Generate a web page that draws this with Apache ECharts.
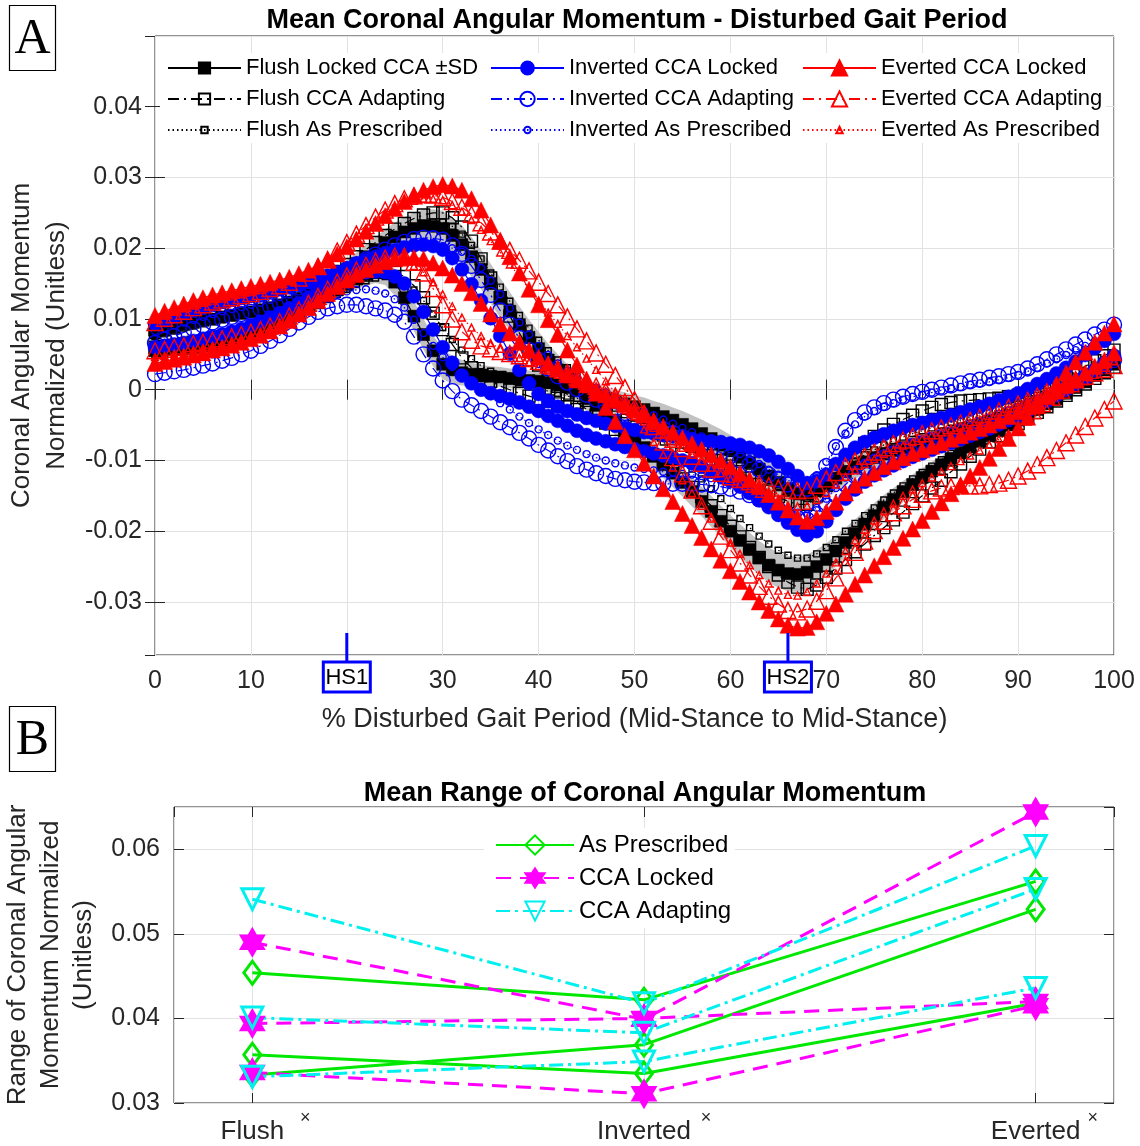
<!DOCTYPE html>
<html>
<head>
<meta charset="utf-8">
<title>Coronal Angular Momentum</title>
<script src="https://cdn.jsdelivr.net/npm/echarts@6/dist/echarts.min.js"></script>
<style>
html, body { margin: 0; padding: 0; background: #fff; }
#chart { width: 1140px; height: 1146px; }
</style>
</head>
<body>
<div id="chart"></div>
<script>
// ---------------- Panel A data ----------------
// Mean coronal angular momentum at every 1 % of the disturbed gait period.
// Values are in units of 1e-3 (normalized, unitless). Two curves per condition.
const gaitPercent = [0, 1, 2, 3, 4, 5, 6, 7, 8, 9, 10, 11, 12, 13, 14, 15, 16, 17, 18, 19,
  20, 21, 22, 23, 24, 25, 26, 27, 28, 29, 30, 31, 32, 33, 34, 35, 36, 37, 38, 39,
  40, 41, 42, 43, 44, 45, 46, 47, 48, 49, 50, 51, 52, 53, 54, 55, 56, 57, 58, 59,
  60, 61, 62, 63, 64, 65, 66, 67, 68, 69, 70, 71, 72, 73, 74, 75, 76, 77, 78, 79,
  80, 81, 82, 83, 84, 85, 86, 87, 88, 89, 90, 91, 92, 93, 94, 95, 96, 97, 98, 99, 100];

const flushLockedA = [
  8.0, 8.4, 8.8, 9.2, 9.5, 9.8, 10.0, 10.3, 10.5, 10.8,
  11.0, 11.3, 11.6, 12.0, 12.4, 12.9, 13.5, 14.2, 15.0, 15.9,
  16.8, 17.8, 18.8, 19.8, 20.8, 21.6, 22.3, 22.8, 23.2, 23.1,
  22.8, 21.8, 20.5, 18.8, 17.0, 15.0, 13.0, 11.1, 9.2, 7.4,
  5.8, 4.2, 2.8, 1.5, 0.2, -1.0, -2.2, -3.4, -4.6, -5.8,
  -7.0, -8.2, -9.4, -10.6, -11.8, -13.1, -14.4, -15.8, -17.2, -18.6,
  -20.0, -21.3, -22.6, -23.8, -24.8, -25.5, -26.0, -26.1, -25.8, -25.0,
  -24.0, -22.8, -21.6, -20.3, -19.0, -17.8, -16.6, -15.5, -14.4, -13.4,
  -12.4, -11.5, -10.6, -9.7, -8.9, -8.1, -7.3, -6.5, -5.8, -5.0,
  -4.3, -3.5, -2.8, -2.0, -1.3, -0.5, 0.3, 1.1, 2.0, 2.9, 3.8];
const flushLockedB = [
  5.5, 5.6, 5.7, 5.8, 6.0, 6.2, 6.4, 6.6, 6.9, 7.2,
  7.6, 8.1, 8.6, 9.2, 9.9, 10.7, 11.5, 12.3, 13.2, 14.1,
  14.9, 15.7, 16.3, 16.8, 16.6, 15.2, 13.0, 10.4, 7.8, 5.5,
  3.6, 2.8, 2.4, 2.2, 2.0, 1.9, 1.8, 1.6, 1.5, 1.3,
  1.2, 1.0, 0.7, 0.4, 0.0, -0.4, -0.8, -1.2, -1.6, -2.0,
  -2.4, -2.8, -3.3, -3.8, -4.3, -4.9, -5.5, -6.2, -6.9, -7.7,
  -8.5, -9.4, -10.3, -11.2, -12.2, -13.1, -14.0, -14.6, -14.8, -14.3,
  -13.4, -12.5, -11.6, -10.9, -10.2, -9.6, -9.1, -8.6, -8.2, -7.8,
  -7.4, -7.0, -6.6, -6.2, -5.8, -5.4, -5.0, -4.6, -4.1, -3.6,
  -3.1, -2.6, -2.0, -1.4, -0.8, -0.1, 0.6, 1.3, 2.1, 2.8, 3.6];
// Standard deviation of the Flush Locked CCA curves (same units)
const flushLockedSdA = [
  0.7, 0.7, 0.7, 0.7, 0.7, 0.7, 0.7, 0.7, 0.7, 0.7,
  0.8, 0.8, 0.9, 0.9, 1.0, 1.0, 1.1, 1.2, 1.3, 1.4,
  1.5, 1.6, 1.7, 1.8, 1.9, 2.0, 2.1, 2.2, 2.3, 2.4,
  2.5, 2.6, 2.7, 2.8, 2.8, 2.8, 2.8, 2.7, 2.6, 2.5,
  2.4, 2.3, 2.2, 2.1, 2.0, 1.9, 1.8, 1.8, 1.8, 1.8,
  1.8, 1.8, 1.9, 1.9, 2.0, 2.0, 2.1, 2.1, 2.2, 2.2,
  2.3, 2.3, 2.4, 2.4, 2.5, 2.5, 2.5, 2.5, 2.5, 2.4,
  2.3, 2.2, 2.1, 2.0, 1.9, 1.8, 1.7, 1.6, 1.5, 1.4,
  1.3, 1.3, 1.2, 1.2, 1.1, 1.1, 1.0, 1.0, 1.0, 1.0,
  0.9, 0.9, 0.9, 0.9, 0.9, 0.9, 0.9, 0.9, 0.9, 0.9, 0.9];
const flushLockedSdB = [
  0.6, 0.6, 0.6, 0.6, 0.6, 0.6, 0.6, 0.6, 0.6, 0.6,
  0.7, 0.7, 0.8, 0.8, 0.9, 0.9, 1.0, 1.1, 1.2, 1.3,
  1.4, 1.5, 1.6, 1.7, 1.8, 1.9, 2.0, 2.1, 2.2, 2.2,
  2.1, 2.0, 1.8, 1.6, 1.5, 1.4, 1.4, 1.4, 1.4, 1.4,
  1.4, 1.4, 1.4, 1.4, 1.5, 1.5, 1.5, 1.5, 1.6, 1.6,
  1.6, 1.7, 1.7, 1.8, 1.8, 1.9, 1.9, 2.0, 2.0, 2.1,
  2.1, 2.1, 2.2, 2.2, 2.2, 2.2, 2.2, 2.2, 2.2, 2.1,
  2.0, 1.9, 1.8, 1.7, 1.6, 1.5, 1.4, 1.3, 1.2, 1.2,
  1.1, 1.1, 1.0, 1.0, 1.0, 1.0, 0.9, 0.9, 0.9, 0.9,
  0.8, 0.8, 0.8, 0.8, 0.8, 0.8, 0.8, 0.8, 0.8, 0.8, 0.8];
const flushAdaptA = [
  8.5, 8.9, 9.3, 9.7, 10.0, 10.3, 10.6, 10.9, 11.1, 11.4,
  11.6, 11.9, 12.2, 12.6, 13.0, 13.6, 14.2, 15.0, 15.8, 16.7,
  17.7, 18.8, 19.8, 20.8, 21.8, 22.7, 23.5, 24.2, 24.7, 25.0,
  25.0, 24.3, 23.0, 21.0, 18.5, 15.8, 13.0, 10.4, 8.0, 5.7,
  3.5, 1.9, 0.5, -0.7, -1.8, -2.8, -3.8, -4.7, -5.6, -6.5,
  -7.4, -8.3, -9.3, -10.3, -11.4, -12.6, -13.8, -15.1, -16.4, -17.8,
  -19.3, -20.8, -22.3, -23.7, -25.0, -26.2, -27.2, -27.9, -28.2, -27.6,
  -26.5, -25.2, -24.0, -22.9, -21.8, -20.6, -19.5, -18.4, -17.3, -16.1,
  -15.0, -13.9, -12.8, -11.6, -10.5, -9.4, -8.4, -7.4, -6.5, -5.6,
  -4.8, -4.0, -3.2, -2.4, -1.6, -0.8, 0.0, 0.8, 1.6, 2.4, 3.2];
const flushAdaptB = [
  6.0, 6.1, 6.3, 6.5, 6.7, 6.9, 7.2, 7.5, 7.8, 8.1,
  8.5, 8.9, 9.4, 10.0, 10.6, 11.3, 12.0, 12.7, 13.5, 14.3,
  15.0, 15.7, 16.2, 16.6, 16.8, 16.6, 16.0, 14.7, 13.0, 10.8,
  8.5, 6.4, 4.5, 3.1, 2.0, 1.2, 0.5, 0.0, -0.5, -0.9,
  -1.3, -1.6, -2.0, -2.4, -2.8, -3.2, -3.6, -4.0, -4.4, -4.8,
  -5.2, -5.6, -6.0, -6.4, -6.9, -7.4, -8.0, -8.6, -9.3, -10.0,
  -10.8, -11.6, -12.5, -13.4, -14.3, -15.1, -15.8, -16.2, -16.2, -15.0,
  -13.5, -11.8, -10.2, -8.8, -7.6, -6.6, -5.7, -4.9, -4.2, -3.6,
  -3.0, -2.5, -2.1, -1.8, -1.6, -1.5, -1.4, -1.3, -1.2, -1.0,
  -0.8, -0.4, 0.0, 0.6, 1.2, 1.9, 2.6, 3.3, 4.1, 4.8, 5.6];
const flushPrescA = [
  7.5, 7.9, 8.3, 8.7, 9.0, 9.3, 9.6, 9.9, 10.2, 10.5,
  10.8, 11.1, 11.5, 11.9, 12.4, 13.0, 13.6, 14.3, 15.1, 16.0,
  16.9, 17.8, 18.8, 19.8, 20.7, 21.5, 22.3, 23.0, 23.5, 23.7,
  23.7, 23.1, 22.0, 20.4, 18.5, 16.5, 14.5, 12.5, 10.5, 8.7,
  7.0, 5.5, 4.2, 3.1, 2.0, 1.0, 0.0, -1.0, -2.0, -3.0,
  -4.0, -5.1, -6.2, -7.4, -8.6, -9.9, -11.2, -12.6, -14.0, -15.4,
  -16.8, -18.2, -19.5, -20.7, -21.8, -22.7, -23.4, -23.8, -23.8, -23.2,
  -22.3, -21.2, -20.0, -18.9, -17.8, -16.7, -15.6, -14.6, -13.6, -12.6,
  -11.7, -10.8, -9.9, -9.0, -8.2, -7.4, -6.6, -5.8, -5.1, -4.3,
  -3.6, -2.8, -2.1, -1.3, -0.6, 0.2, 0.9, 1.7, 2.4, 3.2, 3.9];
const flushPrescB = [
  5.0, 5.1, 5.3, 5.5, 5.7, 5.9, 6.2, 6.5, 6.8, 7.2,
  7.6, 8.1, 8.6, 9.2, 9.9, 10.6, 11.3, 12.0, 12.8, 13.5,
  14.2, 14.9, 15.4, 15.8, 16.0, 15.8, 15.3, 14.1, 12.6, 10.7,
  8.8, 7.1, 5.6, 4.4, 3.4, 2.6, 2.0, 1.5, 1.0, 0.6,
  0.2, -0.2, -0.5, -0.9, -1.2, -1.6, -1.9, -2.3, -2.6, -3.0,
  -3.4, -3.8, -4.2, -4.6, -5.1, -5.6, -6.2, -6.8, -7.5, -8.2,
  -9.0, -9.9, -10.8, -11.8, -12.8, -13.7, -14.6, -15.1, -15.4, -14.6,
  -13.6, -12.4, -11.2, -10.2, -9.2, -8.5, -7.8, -7.2, -6.7, -6.2,
  -5.8, -5.4, -5.0, -4.6, -4.3, -3.9, -3.6, -3.2, -2.8, -2.4,
  -1.9, -1.4, -0.8, -0.2, 0.4, 1.1, 1.8, 2.5, 3.3, 4.0, 4.8];

const invLockedA = [
  9.3, 9.8, 10.3, 10.8, 11.2, 11.6, 12.0, 12.4, 12.7, 13.0,
  13.3, 13.6, 13.9, 14.2, 14.5, 14.8, 15.2, 15.6, 16.1, 16.6,
  17.2, 17.8, 18.3, 18.8, 19.3, 19.7, 20.1, 20.4, 20.5, 20.3,
  19.8, 18.6, 17.0, 14.9, 12.6, 10.1, 7.6, 5.1, 2.8, 0.9,
  -0.6, -1.6, -2.4, -3.0, -3.5, -4.0, -4.4, -4.8, -5.1, -5.4,
  -5.7, -6.0, -6.2, -6.4, -6.6, -6.8, -7.0, -7.2, -7.3, -7.4,
  -7.6, -7.8, -8.2, -8.7, -9.3, -10.2, -11.2, -12.2, -13.2, -12.9,
  -12.0, -10.5, -9.2, -8.2, -7.4, -6.8, -6.3, -5.8, -5.4, -5.0,
  -4.7, -4.3, -4.0, -3.6, -3.2, -2.8, -2.4, -2.0, -1.5, -1.0,
  -0.5, 0.1, 0.8, 1.5, 2.3, 3.1, 4.0, 4.9, 5.9, 6.9, 7.9];
const invLockedB = [
  6.0, 6.2, 6.4, 6.6, 6.9, 7.2, 7.5, 7.8, 8.2, 8.6,
  9.1, 9.6, 10.2, 10.8, 11.5, 12.2, 13.0, 13.8, 14.5, 15.2,
  15.8, 16.3, 16.6, 16.7, 16.6, 16.0, 15.0, 13.2, 11.0, 8.5,
  6.0, 3.8, 2.0, 0.9, 0.0, -0.5, -0.9, -1.3, -1.8, -2.4,
  -3.0, -3.7, -4.4, -5.1, -5.8, -6.4, -6.9, -7.3, -7.7, -8.1,
  -8.4, -8.7, -9.0, -9.3, -9.6, -10.0, -10.4, -10.9, -11.5, -12.2,
  -12.9, -13.7, -14.6, -15.6, -16.6, -17.7, -18.8, -19.8, -20.6, -20.0,
  -18.6, -17.0, -15.4, -14.1, -13.0, -12.1, -11.4, -10.7, -10.1, -9.5,
  -9.0, -8.5, -8.0, -7.5, -7.0, -6.5, -6.0, -5.5, -4.9, -4.3,
  -3.7, -3.0, -2.3, -1.6, -0.8, 0.0, 0.9, 1.8, 2.8, 3.8, 4.8];
const invAdaptA = [
  6.6, 7.1, 7.6, 8.1, 8.6, 9.1, 9.5, 9.9, 10.3, 10.7,
  11.0, 11.4, 11.8, 12.3, 12.8, 13.4, 14.0, 14.7, 15.4, 16.1,
  16.9, 17.7, 18.4, 19.1, 19.8, 20.4, 20.9, 21.3, 21.5, 21.4,
  21.2, 20.4, 19.2, 17.5, 15.5, 13.4, 11.2, 9.2, 7.3, 5.6,
  4.2, 3.0, 1.9, 1.0, 0.1, -0.7, -1.4, -2.1, -2.7, -3.3,
  -3.9, -4.5, -5.0, -5.6, -6.1, -6.7, -7.2, -7.8, -8.3, -8.9,
  -9.4, -10.0, -10.6, -11.3, -12.0, -12.7, -13.4, -13.9, -14.0, -12.8,
  -10.8, -8.1, -5.8, -4.3, -3.2, -2.5, -1.9, -1.4, -1.0, -0.6,
  -0.3, 0.0, 0.3, 0.6, 0.9, 1.2, 1.4, 1.7, 1.9, 2.2,
  2.5, 3.0, 3.6, 4.3, 5.0, 5.7, 6.4, 7.1, 7.8, 8.5, 9.2];
const invAdaptB = [
  2.2, 2.4, 2.6, 2.8, 3.1, 3.4, 3.7, 4.1, 4.5, 5.0,
  5.5, 6.2, 6.9, 7.7, 8.6, 9.5, 10.3, 11.0, 11.5, 11.8,
  12.0, 12.0, 11.8, 11.5, 11.2, 10.6, 9.6, 7.5, 5.0, 3.0,
  1.3, -0.2, -1.4, -2.2, -3.0, -3.8, -4.6, -5.3, -6.1, -6.9,
  -7.8, -8.6, -9.4, -10.1, -10.8, -11.3, -11.8, -12.2, -12.6, -12.8,
  -13.0, -13.1, -13.2, -13.3, -13.3, -13.3, -13.3, -13.4, -13.5, -13.7,
  -14.0, -14.4, -14.9, -15.5, -16.2, -16.9, -17.6, -18.1, -18.4, -17.6,
  -16.4, -14.9, -13.4, -12.2, -11.1, -10.3, -9.6, -9.0, -8.5, -8.0,
  -7.6, -7.1, -6.7, -6.3, -5.9, -5.4, -5.0, -4.5, -4.0, -3.5,
  -3.0, -2.4, -1.8, -1.2, -0.5, 0.2, 1.0, 1.8, 2.6, 3.4, 4.2];
const invPrescA = [
  8.3, 8.7, 9.1, 9.5, 9.9, 10.3, 10.7, 11.1, 11.4, 11.7,
  12.0, 12.3, 12.7, 13.1, 13.5, 13.9, 14.4, 14.9, 15.5, 16.1,
  16.7, 17.4, 18.0, 18.6, 19.1, 19.5, 19.9, 20.1, 20.3, 20.3,
  20.3, 20.0, 19.5, 18.5, 17.2, 15.4, 13.5, 11.5, 9.5, 7.8,
  6.2, 4.9, 3.7, 2.7, 1.8, 1.0, 0.3, -0.4, -1.1, -1.8,
  -2.4, -3.0, -3.6, -4.2, -4.8, -5.4, -6.0, -6.6, -7.2, -7.8,
  -8.4, -9.1, -9.8, -10.5, -11.3, -12.0, -12.8, -13.3, -13.4, -12.1,
  -10.2, -8.0, -6.2, -4.9, -3.8, -3.0, -2.4, -1.9, -1.4, -1.0,
  -0.7, -0.4, -0.1, 0.2, 0.4, 0.7, 0.9, 1.1, 1.4, 1.7,
  2.1, 2.6, 3.1, 3.7, 4.3, 4.9, 5.6, 6.2, 6.9, 7.5, 8.2];
const invPrescB = [
  3.5, 3.7, 3.9, 4.1, 4.4, 4.7, 5.0, 5.4, 5.8, 6.3,
  6.8, 7.4, 8.1, 8.9, 9.7, 10.6, 11.4, 12.2, 12.9, 13.5,
  13.9, 14.1, 14.2, 14.0, 13.6, 12.8, 11.6, 9.9, 8.0, 6.2,
  4.6, 3.2, 2.0, 1.0, 0.0, -0.9, -1.9, -2.8, -3.8, -4.7,
  -5.6, -6.4, -7.2, -7.9, -8.5, -9.1, -9.6, -10.0, -10.4, -10.7,
  -11.0, -11.2, -11.4, -11.6, -11.7, -11.9, -12.0, -12.2, -12.5, -12.8,
  -13.2, -13.7, -14.3, -15.0, -15.7, -16.4, -17.0, -17.4, -17.6, -16.7,
  -15.4, -13.9, -12.4, -11.3, -10.3, -9.6, -9.0, -8.5, -8.0, -7.6,
  -7.2, -6.8, -6.4, -6.0, -5.6, -5.2, -4.8, -4.4, -3.9, -3.4,
  -2.9, -2.3, -1.7, -1.1, -0.4, 0.3, 1.0, 1.7, 2.5, 3.2, 4.0];

const evLockedA = [
  10.5, 11.1, 11.6, 12.1, 12.6, 13.0, 13.4, 13.7, 14.0, 14.3,
  14.6, 14.9, 15.2, 15.5, 15.9, 16.4, 16.9, 17.5, 18.3, 19.2,
  20.2, 21.3, 22.4, 23.5, 24.6, 25.6, 26.6, 27.5, 28.2, 28.7,
  29.0, 28.8, 28.2, 27.0, 25.4, 23.3, 21.0, 18.8, 16.5, 14.2,
  12.0, 9.9, 7.8, 5.6, 3.5, 1.5, -0.5, -2.5, -4.5, -6.5,
  -8.5, -10.4, -12.2, -14.0, -15.8, -17.5, -19.2, -20.9, -22.5, -24.1,
  -25.6, -27.1, -28.6, -30.0, -31.2, -32.4, -33.3, -33.7, -33.6, -32.8,
  -31.6, -30.3, -28.9, -27.5, -26.2, -24.9, -23.6, -22.3, -21.0, -19.7,
  -18.5, -17.2, -16.0, -14.7, -13.5, -12.2, -11.0, -9.7, -8.3, -6.9,
  -5.4, -3.9, -2.3, -0.8, 0.8, 2.4, 3.9, 5.3, 6.7, 8.0, 9.3];
const evLockedB = [
  3.7, 4.0, 4.3, 4.6, 4.9, 5.2, 5.6, 5.9, 6.3, 6.7,
  7.2, 7.7, 8.3, 9.0, 9.8, 10.7, 11.6, 12.6, 13.6, 14.6,
  15.5, 16.3, 17.0, 17.6, 18.1, 18.5, 18.7, 18.7, 18.5, 17.9,
  17.2, 16.2, 15.0, 13.7, 12.2, 10.7, 9.3, 8.0, 6.7, 5.6,
  4.6, 3.7, 2.9, 2.1, 1.4, 0.7, 0.0, -0.7, -1.4, -2.1,
  -2.9, -3.6, -4.4, -5.2, -6.0, -6.8, -7.6, -8.4, -9.2, -10.0,
  -10.9, -11.8, -12.7, -13.7, -14.8, -15.9, -17.0, -18.0, -18.6, -18.1,
  -17.2, -15.9, -14.6, -13.5, -12.5, -11.7, -10.9, -10.2, -9.6, -9.0,
  -8.5, -8.0, -7.5, -7.0, -6.5, -6.0, -5.5, -5.0, -4.4, -3.8,
  -3.1, -2.4, -1.7, -1.0, -0.2, 0.6, 1.5, 2.4, 3.3, 4.2, 5.2];
const evAdaptA = [
  9.5, 10.1, 10.6, 11.1, 11.6, 12.0, 12.4, 12.7, 13.0, 13.3,
  13.6, 13.9, 14.3, 14.7, 15.2, 15.8, 16.5, 17.4, 18.4, 19.6,
  20.8, 22.0, 23.2, 24.4, 25.4, 26.3, 27.0, 27.4, 27.6, 27.5,
  27.2, 26.6, 25.8, 24.8, 23.6, 22.3, 21.0, 19.7, 18.3, 16.8,
  15.2, 13.6, 12.0, 10.3, 8.6, 6.9, 5.2, 3.6, 2.0, 0.3,
  -1.4, -3.3, -5.2, -7.4, -9.6, -11.9, -14.2, -16.4, -18.6, -20.7,
  -22.6, -24.5, -26.2, -27.8, -29.2, -30.3, -31.2, -31.4, -31.0, -29.9,
  -28.4, -26.6, -24.8, -23.0, -21.4, -19.9, -18.6, -17.4, -16.4, -15.5,
  -14.8, -14.3, -13.9, -13.7, -13.6, -13.6, -13.6, -13.4, -13.2, -12.8,
  -12.2, -11.5, -10.6, -9.6, -8.6, -7.5, -6.4, -5.2, -4.0, -2.8, -1.6];
const evAdaptB = [
  5.5, 5.7, 6.0, 6.2, 6.5, 6.7, 7.0, 7.2, 7.5, 7.8,
  8.1, 8.5, 9.0, 9.6, 10.4, 11.3, 12.2, 13.2, 14.2, 15.2,
  16.1, 16.9, 17.6, 18.2, 18.6, 18.9, 18.9, 18.0, 16.5, 14.3,
  12.0, 10.0, 8.2, 7.0, 6.2, 5.8, 5.4, 5.1, 4.8, 4.4,
  4.0, 3.5, 3.0, 2.4, 1.8, 1.2, 0.5, -0.2, -0.9, -1.7,
  -2.5, -3.4, -4.5, -5.7, -7.0, -8.3, -9.4, -10.4, -11.2, -11.8,
  -12.3, -12.7, -13.0, -13.3, -13.6, -13.9, -14.2, -14.3, -14.2, -13.5,
  -12.6, -11.7, -10.8, -10.1, -9.4, -8.8, -8.2, -7.6, -7.1, -6.6,
  -6.2, -5.8, -5.4, -5.1, -4.7, -4.3, -3.9, -3.5, -3.0, -2.5,
  -2.0, -1.5, -0.9, -0.3, 0.3, 0.9, 1.4, 1.9, 2.4, 2.9, 3.4];
const evPrescA = [
  10.0, 10.5, 11.0, 11.5, 11.9, 12.3, 12.6, 12.9, 13.2, 13.5,
  13.8, 14.1, 14.5, 14.9, 15.4, 16.0, 16.7, 17.5, 18.4, 19.4,
  20.5, 21.6, 22.7, 23.8, 24.7, 25.5, 26.2, 26.7, 27.0, 27.0,
  26.8, 26.1, 25.2, 24.0, 22.6, 21.0, 19.4, 17.7, 16.0, 14.3,
  12.6, 10.9, 9.3, 7.6, 6.0, 4.4, 2.8, 1.2, -0.4, -2.1,
  -3.8, -5.6, -7.4, -9.2, -11.0, -12.8, -14.6, -16.4, -18.2, -19.9,
  -21.6, -23.2, -24.8, -26.2, -27.4, -28.4, -29.0, -29.1, -28.6, -27.4,
  -26.0, -24.4, -22.8, -21.3, -19.8, -18.5, -17.2, -16.1, -15.0, -14.1,
  -13.2, -12.4, -11.6, -10.8, -10.1, -9.3, -8.6, -7.8, -7.0, -6.2,
  -5.4, -4.5, -3.6, -2.6, -1.7, -0.7, 0.2, 1.2, 2.1, 3.1, 4.0];
const evPrescB = [
  4.6, 4.8, 5.1, 5.3, 5.6, 5.9, 6.2, 6.5, 6.9, 7.3,
  7.7, 8.2, 8.8, 9.5, 10.2, 11.1, 12.0, 13.0, 14.0, 15.0,
  15.8, 16.6, 17.2, 17.7, 18.0, 18.1, 18.0, 17.5, 16.6, 15.2,
  13.5, 11.8, 10.2, 8.8, 7.6, 6.6, 5.8, 5.1, 4.5, 3.9,
  3.3, 2.7, 2.1, 1.5, 0.8, 0.1, -0.6, -1.3, -2.1, -2.9,
  -3.7, -4.5, -5.4, -6.3, -7.3, -8.2, -9.2, -10.1, -11.0, -11.8,
  -12.6, -13.3, -14.0, -14.7, -15.3, -15.8, -16.3, -16.5, -16.4, -15.6,
  -14.6, -13.4, -12.3, -11.4, -10.5, -9.8, -9.1, -8.5, -7.9, -7.4,
  -6.9, -6.4, -6.0, -5.5, -5.1, -4.6, -4.2, -3.7, -3.2, -2.7,
  -2.1, -1.5, -0.9, -0.3, 0.4, 1.0, 1.7, 2.3, 2.9, 3.5, 4.1];

// Heel-strike events on the gait-period axis
const heelStrikes = [{ label: 'HS1', x: 20 }, { label: 'HS2', x: 66 }];

// ---------------- Panel B data ----------------
// Mean range of coronal angular momentum per shoe condition (three lines per group)
const shoeConditions = ['Flush', 'Inverted', 'Everted'];
const asPrescribedRange = [[0.0454, 0.0422, 0.0562], [0.0333, 0.0369, 0.0529], [0.0357, 0.0335, 0.0418]];
const ccaLockedRange = [[0.0490, 0.0399, 0.0644], [0.0394, 0.0400, 0.0420], [0.0336, 0.0311, 0.0415]];
const ccaAdaptingRange = [[0.0541, 0.0418, 0.0604], [0.0401, 0.0383, 0.0553], [0.0331, 0.0349, 0.0436]];

// ---------------- Axis ranges ----------------
const yRangeA = { min: -0.0375, max: 0.05 };
const yRangeB = { min: 0.03, max: 0.065 };
const xRangeB = { min: 0.8, max: 3.2 };
const MILLI = 1e-3;

// ---------------- Styling ----------------
const FONT = 'Arial, "Liberation Sans", Helvetica, sans-serif';
const INK = '#262626';
const GRID_LINE = '#e2e2e2';
const DASHDOT = [11, 5, 2, 5];
const DOTTED = [1.5, 3];
const HEXAGRAM = 'path://M50,0 L64.43,25 L93.3,25 L78.87,50 L93.3,75 L64.43,75 L50,100 L35.57,75 L6.7,75 L21.13,50 L6.7,25 L35.57,25 Z';

const groupsA = [
  { name: 'Flush Locked CCA ±SD', curves: [flushLockedA, flushLockedB], color: '#000000', symbol: 'rect', size: 12, fill: true, dash: 'solid' },
  { name: 'Flush CCA Adapting', curves: [flushAdaptA, flushAdaptB], color: '#000000', symbol: 'rect', size: 12, fill: false, dash: DASHDOT },
  { name: 'Flush As Prescribed', curves: [flushPrescA, flushPrescB], color: '#000000', symbol: 'rect', size: 6, fill: false, dash: DOTTED },
  { name: 'Inverted CCA Locked', curves: [invLockedA, invLockedB], color: '#0000ff', symbol: 'circle', size: 14, fill: true, dash: 'solid' },
  { name: 'Inverted CCA Adapting', curves: [invAdaptA, invAdaptB], color: '#0000ff', symbol: 'circle', size: 15, fill: false, dash: DASHDOT },
  { name: 'Inverted As Prescribed', curves: [invPrescA, invPrescB], color: '#0000ff', symbol: 'circle', size: 7, fill: false, dash: DOTTED },
  { name: 'Everted CCA Locked', curves: [evLockedA, evLockedB], color: '#ff0000', symbol: 'triangle', size: 16, fill: true, dash: 'solid' },
  { name: 'Everted CCA Adapting', curves: [evAdaptA, evAdaptB], color: '#ff0000', symbol: 'triangle', size: 16, fill: false, dash: DASHDOT },
  { name: 'Everted As Prescribed', curves: [evPrescA, evPrescB], color: '#ff0000', symbol: 'triangle', size: 7, fill: false, dash: DOTTED }
];

const groupsB = [
  { name: 'As Prescribed', lines: asPrescribedRange, color: '#00e800', symbol: 'diamond', size: [17, 23], rotate: 0, dash: 'solid', fill: 'rgba(0,0,0,0)' },
  { name: 'CCA Locked', lines: ccaLockedRange, color: '#ff00ff', symbol: HEXAGRAM, size: 25, rotate: 0, dash: [15, 9], fill: '#ff00ff' },
  { name: 'CCA Adapting', lines: ccaAdaptingRange, color: '#00f0f0', symbol: 'triangle', size: 21, rotate: 180, dash: [14, 5, 3, 5], fill: 'rgba(0,0,0,0)' }
];

const chart = echarts.init(document.getElementById('chart'), null, { renderer: 'canvas' });

const toGaitPoints = vals => vals.map((v, i) => [gaitPercent[i], v * MILLI]);

const series = [];

// Shaded ±SD band around both Flush Locked CCA curves, drawn as one polygon each
[[flushLockedA, flushLockedSdA], [flushLockedB, flushLockedSdB]].forEach(([mean, sd]) => {
  const rows = mean.map((m, i) => [gaitPercent[i], (m - sd[i]) * MILLI, (m + sd[i]) * MILLI]);
  series.push({
    type: 'custom', xAxisIndex: 0, yAxisIndex: 0, silent: true, z: 1, clip: true,
    data: rows,
    encode: { x: 0, y: [1, 2] },
    renderItem: (params, api) => {
      if (params.dataIndex !== 0) return null;
      const upper = rows.map(r => api.coord([r[0], r[2]]));
      const lower = rows.map(r => api.coord([r[0], r[1]])).reverse();
      return { type: 'polygon', shape: { points: upper.concat(lower) }, style: { fill: '#c2c2c2' } };
    }
  });
});

groupsA.forEach(g => {
  g.curves.forEach(vals => {
    series.push({
      type: 'line', name: g.name, xAxisIndex: 0, yAxisIndex: 0,
      data: toGaitPoints(vals),
      symbol: g.symbol, symbolSize: g.size,
      lineStyle: { color: g.color, width: 1.2, type: g.dash },
      itemStyle: g.fill
        ? { color: g.color, borderColor: g.color, borderWidth: 0.5 }
        : { color: 'rgba(0,0,0,0)', borderColor: g.color, borderWidth: 1.4 },
      emphasis: { disabled: true }, silent: true, z: 2
    });
  });
});

groupsB.forEach(g => {
  g.lines.forEach(vals => {
    series.push({
      type: 'line', name: g.name, xAxisIndex: 2, yAxisIndex: 2,
      data: vals.map((v, i) => [i + 1, v]),
      symbol: g.symbol, symbolSize: g.size, symbolRotate: g.rotate, symbolKeepAspect: true,
      lineStyle: { color: g.color, width: 3, type: g.dash },
      itemStyle: { color: g.fill, borderColor: g.color, borderWidth: 3 },
      emphasis: { disabled: true }, silent: true, z: 2
    });
  });
});

// Legend of panel A: one entry per slot, three columns x three rows
const legendColsA = [167, 490, 802];
const legendRowsA = [68, 99, 130];
const legends = groupsA.map((g, idx) => ({
  data: [g.name],
  left: legendColsA[Math.floor(idx / 3)],
  top: legendRowsA[idx % 3] - 12,
  orient: 'vertical', padding: 0, selectedMode: false,
  itemWidth: 73, itemHeight: g.size < 10 ? 8 : Math.round(g.size / 0.85),
  textStyle: { fontSize: 22, lineHeight: 24, color: '#000', fontFamily: FONT }
}));
legends.push({
  data: groupsB.map(g => g.name),
  left: 495, top: 833, orient: 'vertical', padding: 0, selectedMode: false,
  itemWidth: 78, itemHeight: 24, itemGap: 9,
  textStyle: { fontSize: 24, lineHeight: 24, color: '#000', fontFamily: FONT }
});

const tickLabelA = v => {
  const r = Math.round(v * 100);
  if (Math.abs(v * 100 - r) > 1e-6) return '';
  return r === 0 ? '0' : (r / 100).toFixed(2);
};
const tickLabelB = v => {
  const r = Math.round(v * 100);
  if (Math.abs(v * 100 - r) > 1e-6) return '';
  return (r / 100).toFixed(2);
};
const categoryLabel = v => {
  const r = Math.round(v);
  if (Math.abs(v - r) > 1e-6) return '';
  return shoeConditions[r - 1] || '';
};

const tick = { show: true, inside: true, length: 10, lineStyle: { color: INK, width: 1 } };
const label = { fontSize: 25, color: INK, fontFamily: FONT };
const split = { show: true, lineStyle: { color: GRID_LINE, width: 1 } };
const nameStyle = { fontSize: 27, color: INK, fontFamily: FONT };

const option = {
  animation: false,
  backgroundColor: '#ffffff',
  title: [
    { text: 'Mean Coronal Angular Momentum - Disturbed Gait Period', left: 632, top: 2, textAlign: 'center',
      textStyle: { fontSize: 27, fontWeight: 'bold', color: '#000', fontFamily: FONT } },
    { text: 'Mean Range of Coronal Angular Momentum', left: 640, top: 775, textAlign: 'center',
      textStyle: { fontSize: 27, fontWeight: 'bold', color: '#000', fontFamily: FONT } }
  ],
  legend: legends,
  grid: [
    { left: 155, top: 36, width: 959, height: 619, show: true, borderColor: INK, borderWidth: 1, backgroundColor: 'transparent', outerBoundsMode: 'none' },
    { left: 174, top: 807, width: 940, height: 296, show: true, borderColor: INK, borderWidth: 1, backgroundColor: 'transparent', outerBoundsMode: 'none' }
  ],
  xAxis: [
    { gridIndex: 0, type: 'value', min: 0, max: 100, interval: 10, position: 'bottom',
      axisLine: { show: false }, axisTick: tick, splitLine: split,
      axisLabel: Object.assign({ margin: 14 }, label),
      name: '% Disturbed Gait Period (Mid-Stance to Mid-Stance)', nameLocation: 'middle', nameGap: 51, nameTextStyle: nameStyle },
    { gridIndex: 0, type: 'value', min: 0, max: 100, interval: 10, position: 'top',
      axisLine: { show: false }, axisTick: tick, splitLine: { show: false }, axisLabel: { show: false } },
    { gridIndex: 1, type: 'value', min: xRangeB.min, max: xRangeB.max, splitNumber: 3, position: 'bottom',
      axisLine: { show: false }, axisTick: tick, splitLine: split,
      axisLabel: Object.assign({ margin: 16, formatter: categoryLabel, showMinLabel: false, showMaxLabel: false }, label, { fontSize: 26 }) },
    { gridIndex: 1, type: 'value', min: xRangeB.min, max: xRangeB.max, splitNumber: 3, position: 'top',
      axisLine: { show: false }, axisTick: tick, splitLine: { show: false }, axisLabel: { show: false } }
  ],
  yAxis: [
    { gridIndex: 0, type: 'value', min: yRangeA.min, max: yRangeA.max, splitNumber: 9, position: 'left',
      axisLine: { show: false }, axisTick: tick, splitLine: split,
      axisLabel: Object.assign({ margin: 13, formatter: tickLabelA, showMinLabel: false, showMaxLabel: false }, label),
      name: 'Coronal Angular Momentum\nNormalized (Unitless)', nameLocation: 'middle', nameGap: 71,
      nameTextStyle: Object.assign({}, nameStyle, { fontSize: 26, lineHeight: 35 }) },
    { gridIndex: 0, type: 'value', min: yRangeA.min, max: yRangeA.max, splitNumber: 9, position: 'right',
      axisLine: { show: false }, axisTick: tick, splitLine: { show: false }, axisLabel: { show: false } },
    { gridIndex: 1, type: 'value', min: yRangeB.min, max: yRangeB.max, interval: 0.01, position: 'left',
      axisLine: { show: false }, axisTick: tick, splitLine: split,
      axisLabel: Object.assign({ margin: 14, formatter: tickLabelB, showMaxLabel: false }, label),
      name: 'Range of Coronal Angular\nMomentum Normalized\n(Unitless)', nameLocation: 'middle', nameGap: 74,
      nameTextStyle: Object.assign({}, nameStyle, { fontSize: 26, lineHeight: 33 }) },
    { gridIndex: 1, type: 'value', min: yRangeB.min, max: yRangeB.max, interval: 0.01, position: 'right',
      axisLine: { show: false }, axisTick: tick, splitLine: { show: false }, axisLabel: { show: false } }
  ],
  series: series
};

chart.setOption(option);

// ---------------- Annotations placed through the axes ----------------
const graphics = [];

// White panels behind both legends
graphics.push({ type: 'rect', z: 3, silent: true, shape: { x: 160, y: 53, width: 946, height: 90 }, style: { fill: '#fff' } });
graphics.push({ type: 'rect', z: 3, silent: true, shape: { x: 484, y: 828, width: 251, height: 100 }, style: { fill: '#fff' } });

// Panel letters
[['A', 5.5], ['B', 706.5]].forEach(([letter, y]) => {
  graphics.push({ type: 'rect', z: 20, silent: true, shape: { x: 9.5, y: y, width: 46, height: 65 },
    style: { fill: '#fff', stroke: '#000', lineWidth: 1.2 } });
  graphics.push({ type: 'text', z: 21, silent: true, x: 32.5, y: y + 34,
    style: { text: letter, fill: '#000', font: '50px "Liberation Serif", "Times New Roman", serif',
      textAlign: 'center', textVerticalAlign: 'middle', align: 'center', verticalAlign: 'middle' } });
});

// Heel-strike markers under the gait-period axis
heelStrikes.forEach(h => {
  const [px, py] = chart.convertToPixel({ gridIndex: 0 }, [h.x, yRangeA.min]);
  graphics.push({ type: 'line', z: 30, silent: true, shape: { x1: px, y1: py - 22, x2: px, y2: py + 7 },
    style: { stroke: '#0000ff', lineWidth: 3 } });
  graphics.push({ type: 'rect', z: 30, silent: true, shape: { x: px - 23.5, y: py + 7, width: 47, height: 30 },
    style: { fill: '#fff', stroke: '#0000ff', lineWidth: 3 } });
  graphics.push({ type: 'text', z: 31, silent: true, x: px, y: py + 22.5,
    style: { text: h.label, fill: '#000', font: '22px "Liberation Sans Narrow", "Arial Narrow", Arial, sans-serif',
      textAlign: 'center', textVerticalAlign: 'middle', align: 'center', verticalAlign: 'middle' } });
});

// Small cross marks beside the condition names
const crossOffsets = [53, 62, 57];
shoeConditions.forEach((c, i) => {
  const [px, py] = chart.convertToPixel({ gridIndex: 1 }, [i + 1, yRangeB.min]);
  graphics.push({ type: 'text', z: 30, silent: true, x: px + crossOffsets[i], y: py + 15,
    style: { text: '×', fill: INK, font: '18px Arial, "Liberation Sans", sans-serif',
      textAlign: 'center', textVerticalAlign: 'middle', align: 'center', verticalAlign: 'middle' } });
});

chart.setOption({ graphic: graphics });
</script>
</body>
</html>
